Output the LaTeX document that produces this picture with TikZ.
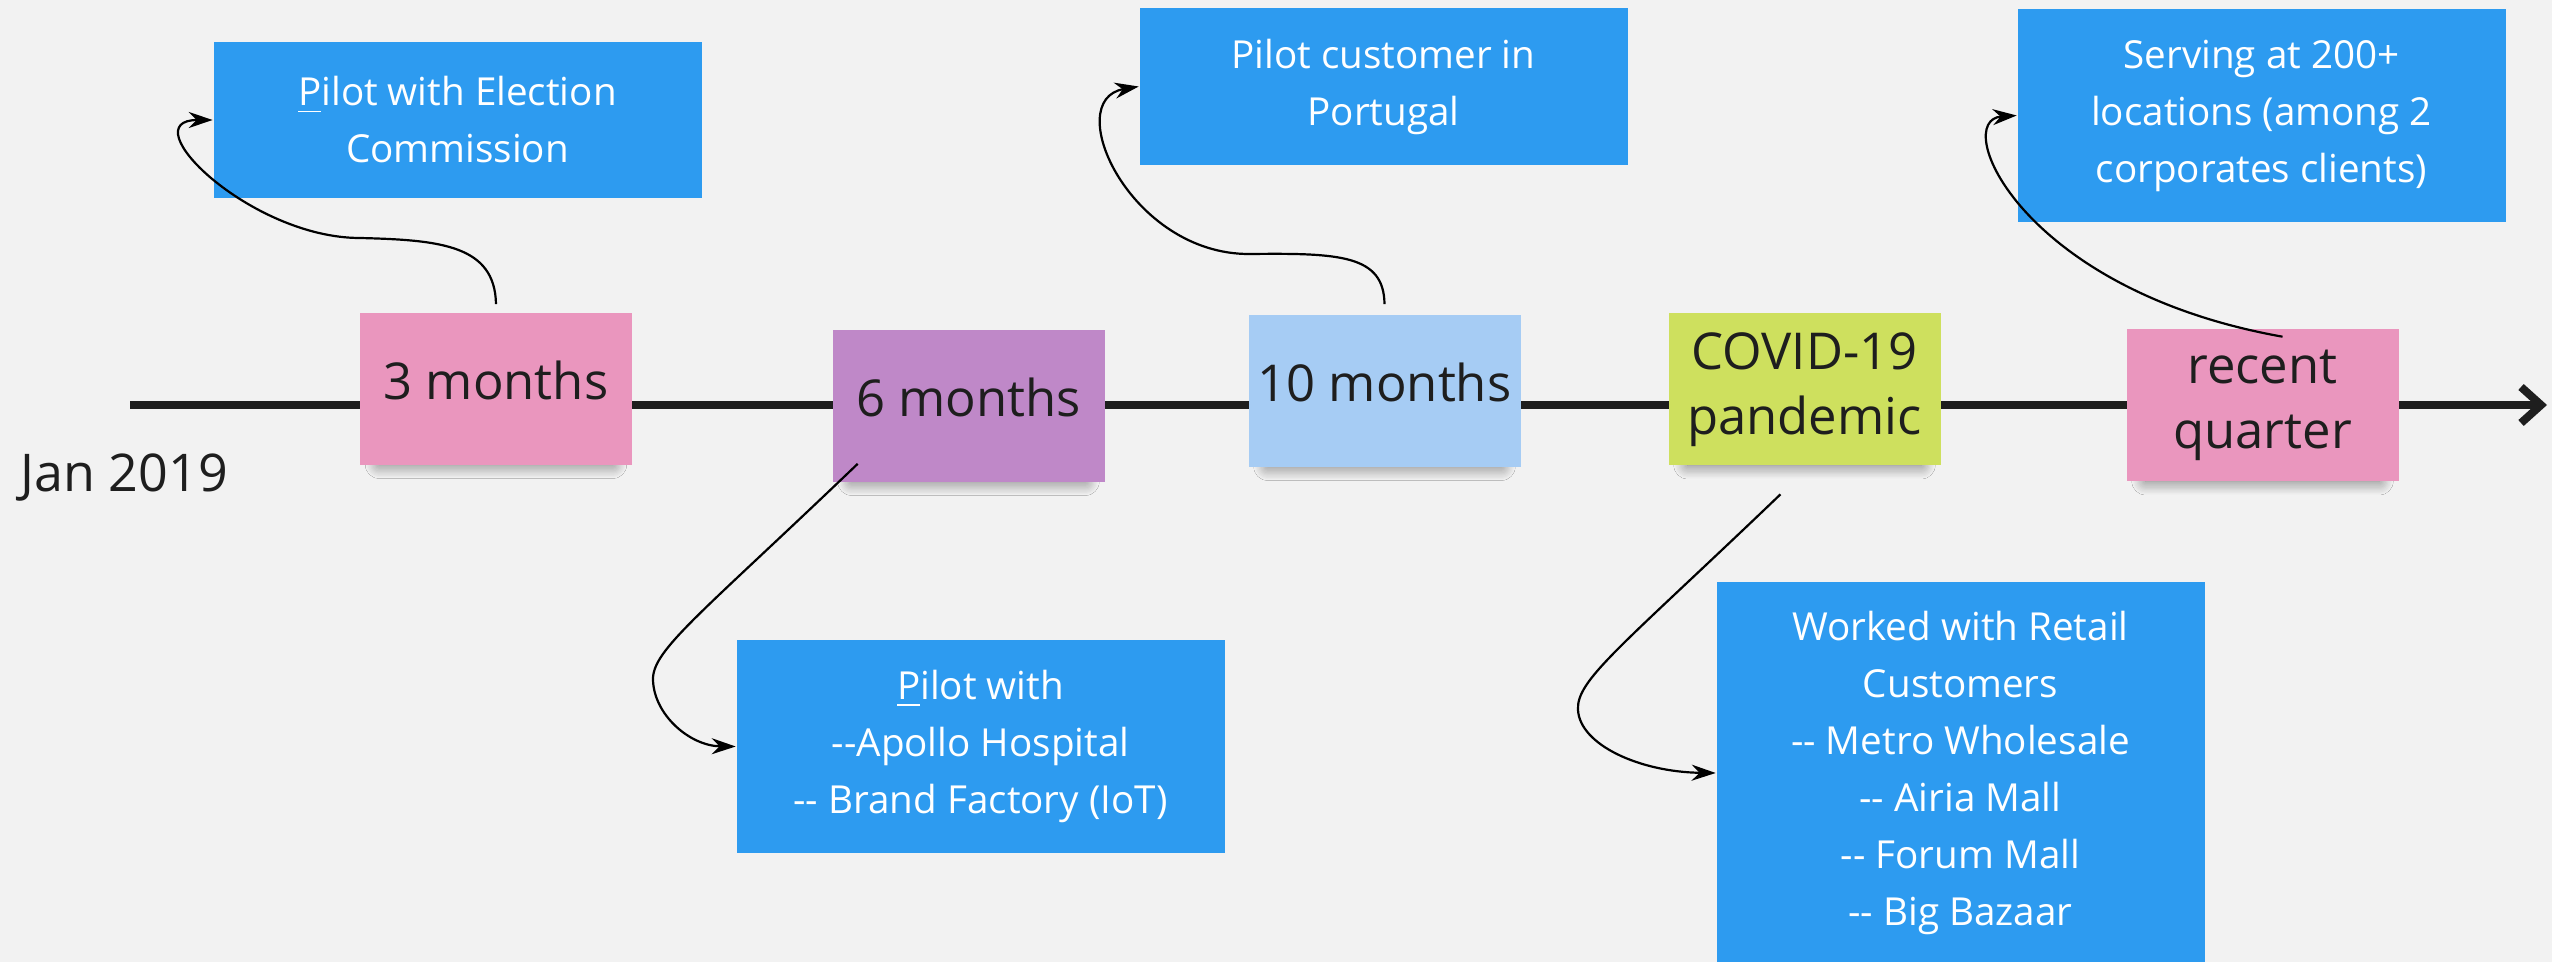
\documentclass[tikz,border=0pt]{standalone}
\usepackage{fontspec}
\setmainfont{Open Sans}
\usetikzlibrary{arrows.meta,shadows.blur}

\definecolor{boardgray}{HTML}{F2F2F2}
\definecolor{cardblue}{HTML}{2D9BF0}
\definecolor{notepink}{HTML}{EA96BE}
\definecolor{notepurple}{HTML}{BF88C8}
\definecolor{noteblue}{HTML}{A6CCF4}
\definecolor{notelime}{HTML}{CEE05E}
\definecolor{inkdark}{HTML}{1E1E1E}

\newcommand{\hh}{-\kern0pt-}

\begin{document}
\begin{tikzpicture}[x=0.25pt,y=-0.25pt,
    note/.style={minimum width=68pt,minimum height=38pt,inner sep=0pt,align=center,
        text=inkdark,font=\fontsize{12.7}{16.3}\selectfont,
        blur shadow={shadow xshift=0pt,shadow yshift=-3pt,shadow scale=0.86,
            shadow opacity=55,shadow blur radius=4pt,shadow blur steps=12}},
    oneline/.style={text depth=4.5pt},
    card/.style={fill=cardblue,text=white,minimum width=122pt,inner sep=0pt,align=center,
        font=\fontsize{9.65}{14.25}\selectfont},
    link/.style={line width=0.55pt,-{Stealth[length=6pt,width=4pt]}}]

    \path[use as bounding box,fill=boardgray] (0,0) rectangle (2552,962);

    % time line
    \coordinate (t0) at (130,405);
    \coordinate (t1) at (2547,405);
    \draw[line width=2pt,color=inkdark,-{Straight Barb[length=5pt,width=9pt]}] (t0) -- (t1);

    \node[anchor=base west,inner sep=0pt,text=inkdark,font=\fontsize{13}{15}\selectfont] (jan) at (20,492) {Jan 2019};

    % sticky notes
    \node[note,oneline,fill=notepink] (m3) at (496,389) {3 months};
    \node[note,oneline,fill=notepurple] (m6) at (968.5,406) {6 months};
    \node[note,oneline,fill=noteblue] (m10) at (1384.5,391) {10 months};
    \node[note,fill=notelime] (cv) at (1804.5,389.5) {COVID-19\\pandemic};
    \node[note,fill=notepink] (rq) at (2262.5,405.5) {recent\\quarter};

    % cards
    \node[card,minimum height=39pt] (ec) at (457.5,120) {\underline{P}ilot with Election\\Commission};
    \node[card,minimum height=39.25pt] (pt) at (1383.5,86.5) {Pilot customer in\\Portugal};
    \node[card,minimum height=53.25pt] (sv) at (2261.5,115.5) {Serving at 200+\\locations (among 2\\corporates clients)};
    \node[card,minimum height=53.25pt] (ap) at (980.5,746.5) {\underline{P}ilot with\\\hh Apollo Hospital\\\hh{} Brand Factory (IoT)};
    \node[card,minimum height=95.5pt] (rt) at (1960.5,773) {Worked with Retail\\Customers\\\hh{} Metro Wholesale\\\hh{} Airia Mall\\\hh{} Forum Mall\\\hh{} Big Bazaar};

    % links
    \draw[link] ([yshift=2pt]m3.north) .. controls (495,245) and (440,240) .. (360,238)
        .. controls (250,238) and (130,120) .. (ec.west);
    \draw[link] ([yshift=2.5pt]m10.north) .. controls (1384,255) and (1340,253) .. (1250,254)
        .. controls (1130,255) and (1060,100) .. (pt.west);
    \draw[link] ([xshift=5pt,yshift=-2pt]rq.north) .. controls (2020,290) and (1950,120) .. (sv.west);
    \draw[link] ([xshift=6.5pt,yshift=4.75pt]m6.south west) .. controls (700,615) and (652,650) .. (653,680)
        .. controls (654,715) and (690,746) .. (ap.west);
    \draw[link] ([xshift=-6pt,yshift=-7pt]cv.south) .. controls (1620,648) and (1576,680) .. (1578,710)
        .. controls (1580,745) and (1640,772) .. (rt.west);
\end{tikzpicture}
\end{document}
